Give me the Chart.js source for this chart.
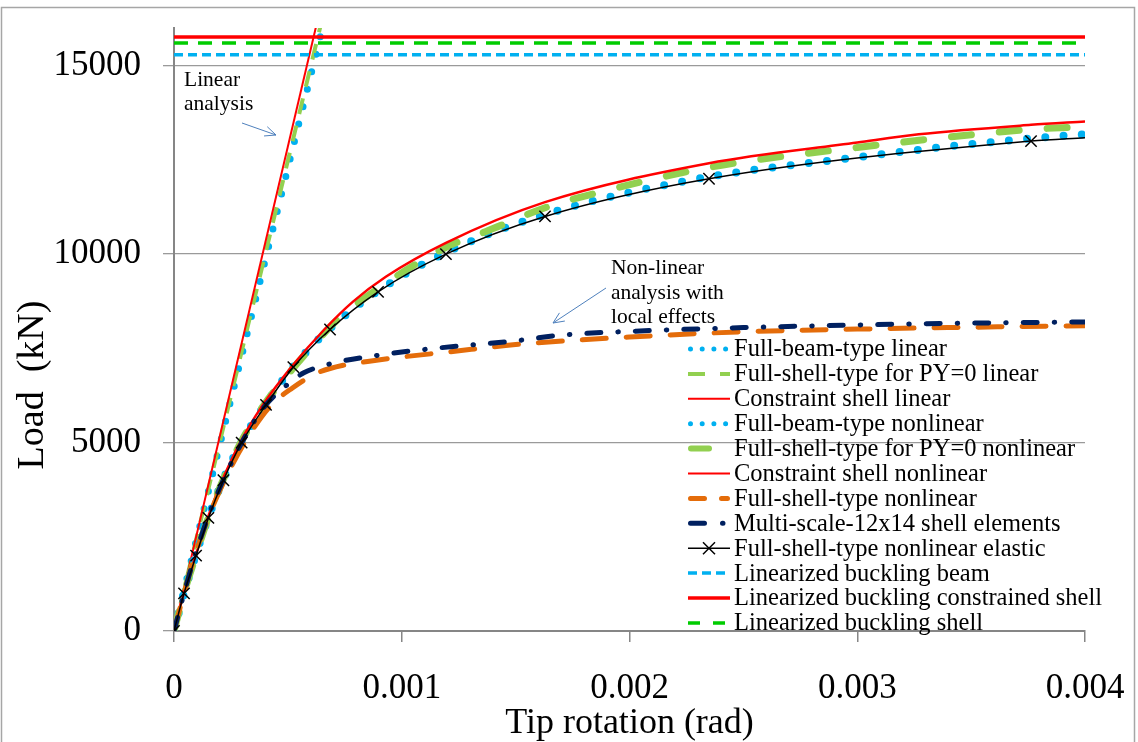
<!DOCTYPE html>
<html><head><meta charset="utf-8">
<script src="https://cdn.jsdelivr.net/npm/chart.js@4.4.0/dist/chart.umd.min.js"></script>
<style>html,body{margin:0;padding:0;background:#fff;}canvas{display:block}</style>
</head><body>
<canvas id="c" width="1138" height="742"></canvas>
<script>
// ---------- data ----------
const xTicks = [0, 0.001, 0.002, 0.003, 0.004];
const xTickLabels = ['0', '0.001', '0.002', '0.003', '0.004'];
const yTicks = [0, 5000, 10000, 15000];
const xTitle = 'Tip rotation (rad)';
const yTitle = 'Load  (kN)';

const seriesNames = [
  'Full-beam-type linear',
  'Full-shell-type for PY=0 linear',
  'Constraint shell linear',
  'Full-beam-type nonlinear',
  'Full-shell-type for PY=0 nonlinear',
  'Constraint shell nonlinear',
  'Full-shell-type nonlinear',
  'Multi-scale-12x14 shell elements',
  'Full-shell-type nonlinear elastic',
  'Linearized buckling beam',
  'Linearized buckling constrained shell',
  'Linearized buckling shell'
];

const beamLinX = [0, 0.0007];
const beamLinY = [0, 17190];
const shellLinX = [0, 0.0007];
const shellLinY = [0, 17470];
const constrLinX = [0, 0.0007];
const constrLinY = [0, 18000];

const beamNonX = [0,0.000044,0.000095,0.00015,0.000215,0.000295,0.0004,0.000522,0.00068,0.00089,0.00118,0.0016,0.0023,0.003,0.0035,0.00393,0.004];
const beamNonY = [0,1000,2000,3000,4000,5000,6000,7000,8000,9000,10000,11000,12000,12570,12920,13150,13180];

const shellNonX = [0,0.000044,0.000096,0.00015,0.000215,0.000293,0.000395,0.00052,0.000567,0.000716,0.0009,0.001194,0.00137,0.001629,0.00176,0.002349,0.003,0.003763,0.004];
const shellNonY = [0,1000,2000,3000,4000,5000,6000,6950,7280,8250,9100,10180,10600,11230,11470,12300,12830,13310,13380];

const constrNonX = [0,0.000043,0.000095,0.000148,0.000212,0.00029,0.00039,0.000517,0.00066,0.000786,0.00093,0.001194,0.001629,0.002349,0.003,0.00327,0.003763,0.004];
const constrNonY = [0,1000,2000,3000,4000,5000,6000,7020,8000,8740,9400,10300,11380,12410,12960,13180,13430,13520];

const fullShellNonX = [0,0.000044,0.000092,0.00015,0.000222,0.00031,0.00042,0.00052,0.00063,0.00075,0.00085,0.001,0.0012,0.0015,0.002,0.0025,0.003,0.0035,0.004];
const fullShellNonY = [0,1000,2000,3000,4000,5000,5950,6450,6850,7060,7150,7270,7400,7600,7800,7940,8010,8060,8100];

const multiScaleX = [0,0.000044,0.000092,0.000148,0.000216,0.000298,0.00039,0.00051,0.00057,0.0007,0.0009,0.00113,0.0015,0.0017,0.002,0.0025,0.003,0.0035,0.004];
const multiScaleY = [0,1000,2000,3000,4000,5000,5900,6600,6850,7110,7320,7490,7700,7850,7950,8050,8120,8170,8200];

const elasticX = [0,0.000044,0.000097,0.000151,0.000217,0.000297,0.000404,0.000524,0.000685,0.000896,0.001194,0.001629,0.002349,0.003763,0.004];
const elasticY = [0,1000,2000,3000,4000,5000,6000,7000,8000,9000,10000,11000,12000,13000,13090];

const buckBeamX = [0, 0.004];
const buckBeamY = [15290, 15290];
const buckConstrX = [0, 0.004];
const buckConstrY = [15760, 15760];
const buckShellX = [0, 0.004];
const buckShellY = [15600, 15600];

// ---------- build ----------
const FONT = "'Liberation Serif', 'Times New Roman', serif";
const pts = (xs, ys) => xs.map((x, i) => ({x, y: ys[i]}));

const styles = [
  {c:'#00b0f0', w:7, dash:[0,18], cap:'round', lw:5, ldash:[0,11.7]},
  {c:'#92d050', w:4, dash:[16,12], cap:'butt', lw:4, ldash:[17,15]},
  {c:'#ff0000', w:2, dash:[], cap:'butt', lw:2, ldash:[]},
  {c:'#00b0f0', w:8, dash:[0,18.3], cap:'round', lw:5, ldash:[0,11.7]},
  {c:'#92d050', w:7, dash:[20,28], cap:'round', lw:6, ldash:[18,40]},
  {c:'#ff0000', w:2.5, dash:[], cap:'butt', lw:2, ldash:[]},
  {c:'#e46c0a', w:5, dash:[24,20], cap:'round', lw:5, ldash:[14,17]},
  {c:'#002060', w:5, dash:[14,17,0.5,17], cap:'round', lw:5, ldash:[14,18,0.5,40]},
  {c:'#000000', w:1.5, dash:[], cap:'butt', lw:1.5, ldash:[]},
  {c:'#00b0f0', w:3.5, dash:[9,5], cap:'butt', lw:3.5, ldash:[9,5]},
  {c:'#ff0000', w:3.5, dash:[], cap:'butt', lw:3.5, ldash:[]},
  {c:'#00cc00', w:3.5, dash:[14,10], cap:'butt', lw:3.5, ldash:[12,13]}
];
const series = [
  pts(beamLinX, beamLinY), pts(shellLinX, shellLinY), pts(constrLinX, constrLinY),
  pts(beamNonX, beamNonY), pts(shellNonX, shellNonY), pts(constrNonX, constrNonY),
  pts(fullShellNonX, fullShellNonY), pts(multiScaleX, multiScaleY), pts(elasticX, elasticY),
  pts(buckBeamX, buckBeamY), pts(buckConstrX, buckConstrY), pts(buckShellX, buckShellY)
];

const datasets = series.map((d, i) => {
  const s = styles[i];
  const ds = {
    label: seriesNames[i], data: d, showLine: true,
    borderColor: s.c, backgroundColor: s.c, borderWidth: s.w,
    borderDash: s.dash, borderCapStyle: s.cap, borderJoinStyle: 'round',
    pointRadius: 0, pointHoverRadius: 0, order: -i,
    cubicInterpolationMode: (i >= 3 && i <= 8) ? 'monotone' : 'default'
  };
  if (i === 8) {
    ds.pointStyle = 'crossRot';
    ds.pointRadius = ctx => (ctx.dataIndex === d.length - 1 ? 0 : 8);
    ds.pointBorderWidth = 1.5;
    ds.pointBorderColor = '#000';
  }
  return ds;
});

const zeroPad = s => { s.paddingTop = 0; s.paddingBottom = 0; s.paddingLeft = 0; s.paddingRight = 0; };

const deco = {
  id: 'deco',
  beforeDraw(chart) {
    const c = chart.ctx;
    c.save();
    c.fillStyle = '#fff';
    c.fillRect(0, 0, chart.width, chart.height);
    c.strokeStyle = '#a6a6a6';
    c.lineWidth = 1.5;
    c.strokeRect(1.5, 7.5, 1133, 760);
    // y axis title
    c.translate(33, 385);
    c.rotate(-Math.PI / 2);
    c.font = '38px ' + FONT;
    c.fillStyle = '#000';
    c.textAlign = 'center';
    c.textBaseline = 'middle';
    c.fillText(yTitle, 0, 0);
    c.restore();
  },
  afterDatasetsDraw(chart) {
    const c = chart.ctx;
    c.save();
    // legend
    const x0 = 688, x1 = 730, tx = 734;
    c.font = '24.5px ' + FONT;
    c.textBaseline = 'middle';
    c.textAlign = 'left';
    seriesNames.forEach((name, i) => {
      const s = styles[i];
      const y = 349 + 24.9 * i;
      c.save();
      c.strokeStyle = s.c;
      c.lineWidth = s.lw;
      c.lineCap = s.cap;
      c.setLineDash(s.ldash);
      c.beginPath();
      const sx0 = s.cap === 'round' ? x0 + s.lw / 2 : x0;
      const sx1 = s.cap === 'round' ? x1 - s.lw / 2 : x1;
      c.moveTo(sx0, y); c.lineTo(sx1, y);
      c.stroke();
      if (i === 8) {
        c.setLineDash([]);
        c.lineWidth = 1.5;
        const m = 709, r = 6;
        c.beginPath();
        c.moveTo(m - r, y - r); c.lineTo(m + r, y + r);
        c.moveTo(m - r, y + r); c.lineTo(m + r, y - r);
        c.stroke();
      }
      c.restore();
      c.fillStyle = '#000';
      c.fillText(name, tx, y + 1);
    });
    // annotations
    c.font = '21.5px ' + FONT;
    c.fillStyle = '#000';
    c.fillText('Linear', 184, 80);
    c.fillText('analysis', 184, 104);
    c.fillText('Non-linear', 611, 268);
    c.fillText('analysis with', 611, 293);
    c.fillText('local effects', 611, 317);
    const arrow = (ax, ay, bx, by) => {
      c.strokeStyle = '#4f81bd';
      c.lineWidth = 1;
      c.beginPath(); c.moveTo(ax, ay); c.lineTo(bx, by); c.stroke();
      const a = Math.atan2(by - ay, bx - ax), L = 12, sp = 0.42;
      c.beginPath();
      c.moveTo(bx - L * Math.cos(a - sp), by - L * Math.sin(a - sp));
      c.lineTo(bx, by);
      c.lineTo(bx - L * Math.cos(a + sp), by - L * Math.sin(a + sp));
      c.stroke();
    };
    arrow(242, 123, 276, 135);
    arrow(606, 288, 553, 323);
    c.restore();
  }
};

new Chart(document.getElementById('c'), {
  type: 'scatter',
  data: { datasets },
  plugins: [deco],
  options: {
    responsive: false,
    animation: false,
    devicePixelRatio: 1,
    layout: { padding: { left: 0, right: 53, top: 28, bottom: 0 } },
    plugins: { legend: { display: false }, tooltip: { enabled: false } },
    scales: {
      x: {
        type: 'linear', min: 0, max: 0.004,
        afterBuildTicks: s => { s.ticks = xTicks.map(v => ({ value: v })); },
        afterFit: s => { s.height = 111; zeroPad(s); },
        ticks: {
          autoSkip: false, maxRotation: 0, padding: 29,
          color: '#000', font: { family: FONT, size: 35, lineHeight: 1 },
          callback: (v, i) => xTickLabels[i]
        },
        grid: { display: true, drawOnChartArea: false, drawTicks: true, tickLength: 11, color: '#868686', lineWidth: 1.5 },
        border: { display: true, color: '#868686', width: 2 },
        title: { display: true, text: xTitle, color: '#000', font: { family: FONT, size: 36, lineHeight: 1 }, padding: { top: 0, bottom: 0 } }
      },
      y: {
        type: 'linear', min: 0, max: 16000,
        afterBuildTicks: s => { s.ticks = yTicks.map(v => ({ value: v })); },
        afterFit: s => { s.width = 174; zeroPad(s); },
        ticks: {
          padding: 22, color: '#000', font: { family: FONT, size: 35, lineHeight: 1 },
          callback: v => String(v)
        },
        grid: { display: true, drawOnChartArea: true, drawTicks: true, tickLength: 11, color: '#9a9a9a', lineWidth: 1.3 },
        border: { display: true, color: '#868686', width: 2 },
        title: { display: false }
      }
    }
  }
});
</script>
</body></html>
